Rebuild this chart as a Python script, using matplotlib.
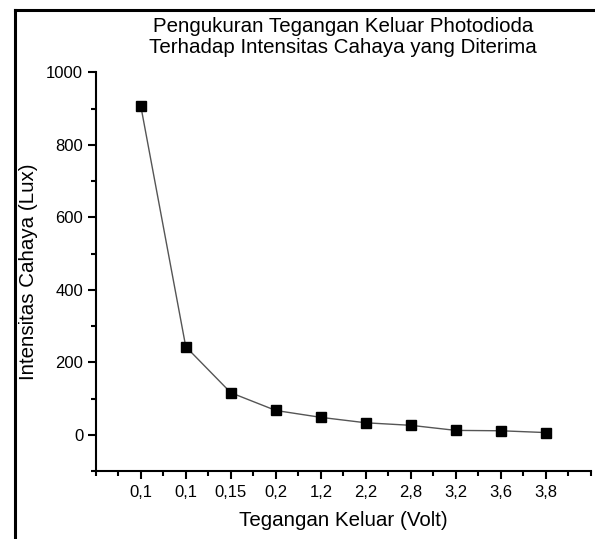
import matplotlib
matplotlib.use("Agg")
import matplotlib.pyplot as plt
from matplotlib.lines import Line2D
from matplotlib.ticker import MultipleLocator

plt.rcParams['font.family'] = ['Liberation Sans', 'DejaVu Sans']

categories = ["0,1", "0,1", "0,15", "0,2", "1,2", "2,2", "2,8", "3,2", "3,6", "3,8"]
intensity = [908, 243, 116, 67, 48, 33, 26, 12, 11, 6]

W, H = 595, 539
fig = plt.figure(figsize=(W / 100, H / 100), dpi=100)
ax = fig.add_axes([95.7 / W, (H - 471) / H, (591 - 95.7) / W, (471 - 72.3) / H])

xs = list(range(1, len(categories) + 1))
ax.plot(xs, intensity, color="#555555", linewidth=1.0, zorder=2)
ax.plot(xs, intensity, linestyle="none", marker="s", markersize=7.5,
        color="black", zorder=3)

ax.set_xlim(0, 11)
ax.set_ylim(-100, 1000)
ax.set_xticks(xs)
ax.set_xticklabels(categories)
ax.xaxis.set_minor_locator(MultipleLocator(0.5))
ax.set_yticks([0, 200, 400, 600, 800, 1000])
ax.yaxis.set_minor_locator(MultipleLocator(100))

for s in ["top", "right"]:
    ax.spines[s].set_visible(False)
for s in ["left", "bottom"]:
    ax.spines[s].set_linewidth(1.5)

ax.tick_params(which="major", direction="out", length=6, width=1.5,
               labelsize=12, pad=3)
ax.tick_params(which="minor", direction="out", length=3.5, width=1.5)
ax.tick_params(axis="x", which="major", pad=4)

ax.set_xlabel("Tegangan Keluar (Volt)", fontsize=14.8, labelpad=8)
ax.set_ylabel("Intensitas Cahaya (Lux)", fontsize=14.8, labelpad=6)
fig.text(343 / W, 1 - 37 / H,
         "Pengukuran Tegangan Keluar Photodioda\nTerhadap Intensitas Cahaya yang Diterima",
         fontsize=14.8, ha="center", va="center", linespacing=1.15)

# border lines of the cropped frame
fig.add_artist(Line2D([14.5 / W, 14.5 / W], [0, 1 - 10 / H], color="black",
                      linewidth=2.2, transform=fig.transFigure))
fig.add_artist(Line2D([14.5 / W, 1], [1 - 10 / H, 1 - 10 / H], color="black",
                      linewidth=2.2, transform=fig.transFigure))

fig.savefig("out.png", dpi=100)
